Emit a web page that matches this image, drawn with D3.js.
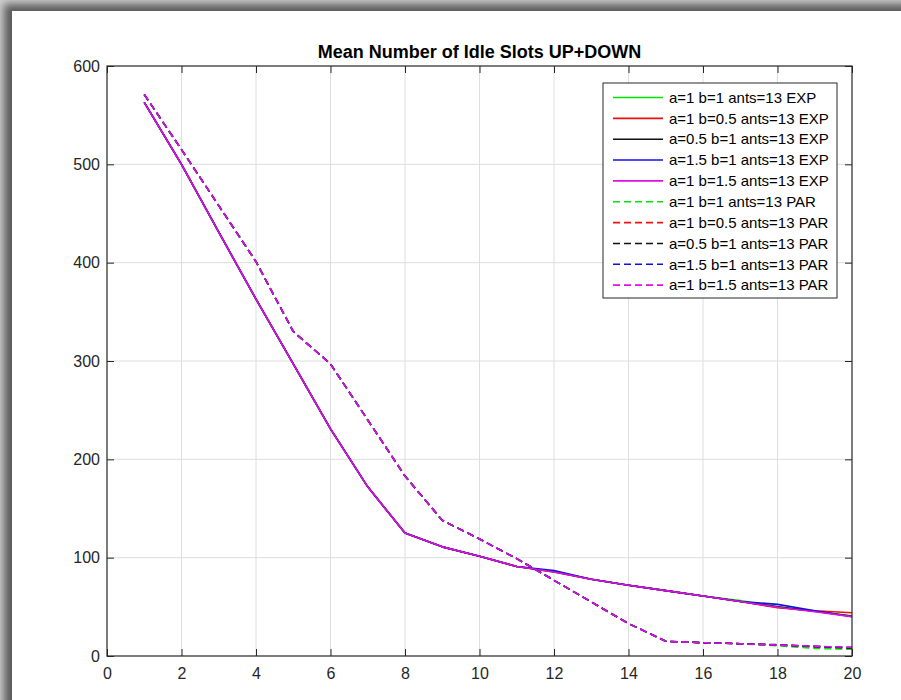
<!DOCTYPE html>
<html>
<head>
<meta charset="utf-8">
<script src="https://cdn.jsdelivr.net/npm/d3@7"></script>
<style>
  html, body { margin: 0; padding: 0; background: #ffffff; }
  svg { display: block; }
  text { font-family: "Liberation Sans", Arial, Helvetica, sans-serif; }
</style>
</head>
<body>
<svg id="chart" width="901" height="700"></svg>
<script>
// Iteration index on the x axis
const iterations = d3.range(1, 21);

// Solid lines: EXP runs
const expGreen   = [563, 500, 431, 363, 297, 231, 172, 125, 111, 101.5, 91, 85.5, 78, 72, 66.5, 61, 56.5, 50, 45.5, 41];
const expRed     = [563, 500, 431, 363, 297, 231, 172, 125, 111, 101.5, 91, 85.5, 78, 72, 66.5, 61, 55.5, 49, 46, 44];
const expBlack   = [563, 500, 431, 363, 297, 231, 172, 125, 111, 101.5, 91, 86, 78, 72, 66.5, 61, 55.5, 50, 45.5, 40.5];
const expBlue    = [563, 500, 431, 363, 297, 231, 172, 125, 111, 101.5, 91, 87, 78, 72, 66.5, 61, 55.5, 52.5, 46, 40];
const expMagenta = [563, 500, 431, 363, 297, 231, 172, 125, 111, 101.5, 91, 85.5, 78, 72, 66.5, 61, 55.5, 49.5, 45, 40];

// Dashed lines: PAR runs
const parGreen   = [571, 515, 458, 401, 330, 297, 240, 183, 138, 119, 99, 77, 55, 33, 15, 13.5, 12.5, 10.5, 7.8, 6.8];
const parRed     = [571, 515, 458, 401, 330, 297, 240, 183, 138, 119, 99, 77, 55, 33, 15, 13.5, 12.5, 11.2, 9.5, 8.5];
const parBlack   = [571, 515, 458, 401, 330, 297, 240, 183, 138, 119, 99, 77, 55, 33, 15, 13.5, 12.5, 11.5, 9.5, 8];
const parBlue    = [571, 515, 458, 401, 330, 297, 240, 183, 138, 119, 99, 77, 55, 33, 15, 13.5, 12.5, 11.2, 9.8, 8.5];
const parMagenta = [571, 515, 458, 401, 330, 297, 240, 183, 138, 119, 99, 77, 55, 33, 15, 13.5, 12.5, 11.2, 10, 8.8];

const seriesLabels = [
  "a=1 b=1 ants=13 EXP", "a=1 b=0.5 ants=13 EXP", "a=0.5 b=1 ants=13 EXP",
  "a=1.5 b=1 ants=13 EXP", "a=1 b=1.5 ants=13 EXP",
  "a=1 b=1 ants=13 PAR", "a=1 b=0.5 ants=13 PAR", "a=0.5 b=1 ants=13 PAR",
  "a=1.5 b=1 ants=13 PAR", "a=1 b=1.5 ants=13 PAR"
];
const seriesValues = [expGreen, expRed, expBlack, expBlue, expMagenta,
                      parGreen, parRed, parBlack, parBlue, parMagenta];
const seriesColors = ["#00e600", "#f01010", "#101010", "#1010e0", "#e010e0",
                      "#00e600", "#f01010", "#101010", "#1010e0", "#e010e0"];
const seriesDashed = [false, false, false, false, false, true, true, true, true, true];

const xTicks = [0, 2, 4, 6, 8, 10, 12, 14, 16, 18, 20];
const yTicks = [0, 100, 200, 300, 400, 500, 600];
const chartTitle = "Mean Number of Idle Slots UP+DOWN";

const svg = d3.select("#chart");
const W = 901, H = 700;

// Window frame: white panel with a soft drop shadow on its top and left edges
const defs = svg.append("defs");
defs.append("filter").attr("id", "soft").attr("x", "-5%").attr("y", "-5%").attr("width", "110%").attr("height", "110%")
  .append("feGaussianBlur").attr("stdDeviation", 4);

svg.append("rect").attr("width", W).attr("height", H).attr("fill", "#d0d0d0");
svg.append("rect").attr("x", 4).attr("y", 4).attr("width", W + 40).attr("height", H + 40)
  .attr("fill", "#5a5a5a").attr("filter", "url(#soft)");
svg.append("rect").attr("x", 12).attr("y", 11).attr("width", W - 12).attr("height", H - 11).attr("fill", "#ffffff");

// Plot area
const plotL = 107, plotR = 852, plotT = 66, plotB = 656;
const x = d3.scaleLinear().domain([0, 20]).range([plotL, plotR]);
const y = d3.scaleLinear().domain([0, 600]).range([plotB, plotT]);

const axisColor = "#262626";
const gridColor = "#dedede";

// Grid lines
const grid = svg.append("g");
grid.selectAll("line.gx").data(xTicks.slice(1, -1)).enter().append("line")
  .attr("x1", d => x(d)).attr("x2", d => x(d)).attr("y1", plotT).attr("y2", plotB)
  .attr("stroke", gridColor).attr("stroke-width", 1);
grid.selectAll("line.gy").data(yTicks.slice(1, -1)).enter().append("line")
  .attr("x1", plotL).attr("x2", plotR).attr("y1", d => y(d)).attr("y2", d => y(d))
  .attr("stroke", gridColor).attr("stroke-width", 1);

// Data lines
const line = d3.line().x((d, i) => x(iterations[i])).y(d => y(d));
const linesG = svg.append("g");
seriesValues.forEach((vals, k) => {
  linesG.append("path")
    .datum(vals)
    .attr("d", line)
    .attr("fill", "none")
    .attr("stroke", seriesColors[k])
    .attr("stroke-width", 1.6)
    .attr("stroke-linejoin", "round")
    .attr("stroke-dasharray", seriesDashed[k] ? "7,4" : null);
});

// Axes with inward ticks on all four sides
const tickLen = 7;
const bottomAxis = svg.append("g").attr("transform", `translate(0,${plotB})`)
  .call(d3.axisBottom(x).tickValues(xTicks).tickSize(-tickLen).tickPadding(12).tickFormat(d3.format("d")));
const topAxis = svg.append("g").attr("transform", `translate(0,${plotT})`)
  .call(d3.axisTop(x).tickValues(xTicks).tickSize(-tickLen).tickFormat(""));
const leftAxis = svg.append("g").attr("transform", `translate(${plotL},0)`)
  .call(d3.axisLeft(y).tickValues(yTicks).tickSize(-tickLen).tickPadding(7).tickFormat(d3.format("d")));
const rightAxis = svg.append("g").attr("transform", `translate(${plotR},0)`)
  .call(d3.axisRight(y).tickValues(yTicks).tickSize(-tickLen).tickFormat(""));

[bottomAxis, topAxis, leftAxis, rightAxis].forEach(a => {
  a.select(".domain").remove();
  a.selectAll(".tick line").attr("stroke", axisColor).attr("stroke-width", 1);
  a.selectAll(".tick text").attr("fill", axisColor).attr("font-size", 16)
    .style("font-family", "'Liberation Sans', Arial, sans-serif");
});
bottomAxis.selectAll(".tick text").attr("dy", "0.71em");

// Axes box
svg.append("rect").attr("x", plotL).attr("y", plotT).attr("width", plotR - plotL).attr("height", plotB - plotT)
  .attr("fill", "none").attr("stroke", axisColor).attr("stroke-width", 1.2);

// Title
svg.append("text")
  .attr("x", (plotL + plotR) / 2).attr("y", 58)
  .attr("text-anchor", "middle")
  .attr("font-size", 18).attr("font-weight", "bold").attr("fill", "#000")
  .text(chartTitle);

// Legend
const lgX = 603, lgY = 83, lgW = 234, lgH = 215, rowH = 20.85;
const legend = svg.append("g");
legend.append("rect").attr("x", lgX).attr("y", lgY).attr("width", lgW).attr("height", lgH)
  .attr("fill", "#ffffff").attr("stroke", axisColor).attr("stroke-width", 1);
seriesLabels.forEach((lab, k) => {
  const cy = lgY + 14.5 + k * rowH;
  legend.append("line")
    .attr("x1", lgX + 10).attr("x2", lgX + 60).attr("y1", cy).attr("y2", cy)
    .attr("stroke", seriesColors[k]).attr("stroke-width", 1.6)
    .attr("stroke-dasharray", seriesDashed[k] ? "7,4" : null);
  legend.append("text")
    .attr("x", lgX + 66).attr("y", cy).attr("dy", "0.35em")
    .attr("font-size", 15).attr("fill", "#000")
    .text(lab);
});
</script>
</body>
</html>
